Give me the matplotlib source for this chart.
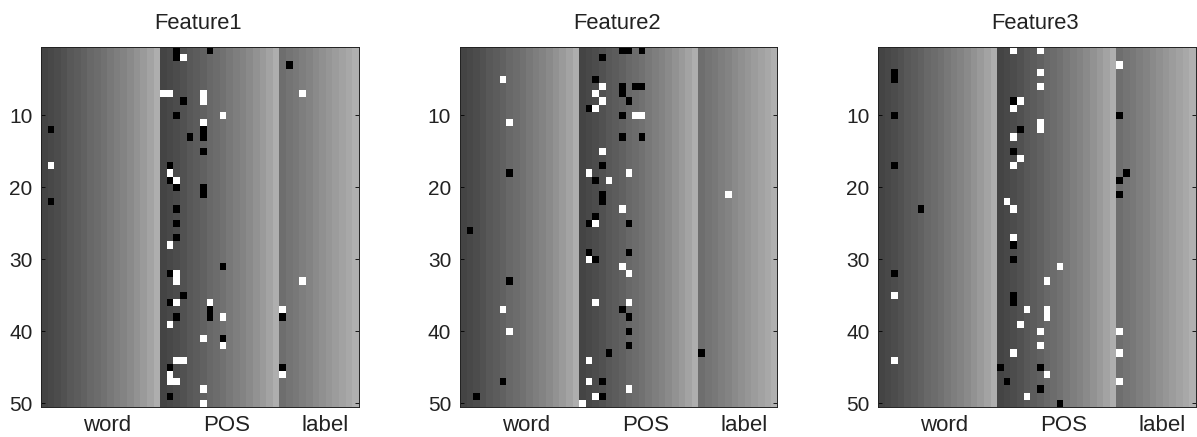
import numpy as np
import matplotlib
matplotlib.use("Agg")
import matplotlib.pyplot as plt

plt.rcParams['font.family'] = ['Liberation Sans', 'DejaVu Sans']

titles = ["Feature1", "Feature2", "Feature3"]
group_labels = ["word", "POS", "label"]
group_label_cols = [9.5, 27.6, 42.5]
row_ticks = [10, 20, 30, 40, 50]
n_rows = 50

# background grey level of every column
shade_word = [68, 72, 76, 82, 88, 92, 98, 104, 108, 114, 120, 126, 132, 138, 146, 154, 164, 174]
shade_pos = [68, 72, 76, 82, 88, 92, 98, 104, 108, 114, 120, 126, 132, 138, 146, 154, 164, 174]
shade_label = [110, 116, 120, 126, 132, 138, 144, 150, 156, 162, 168, 176]

# (column, row) of black and white cells
f1_black = [(20,1),(20,2),(25,1),(37,3),(21,8),(20,10),(24,12),(24,13),(22,13),(1,12),(24,15),
            (19,17),(19,19),(20,20),(24,20),(24,21),(1,22),(20,23),(20,25),(20,27),(27,31),(19,32),
            (21,35),(19,36),(25,37),(25,38),(36,38),(20,38),(27,41),(19,45),(36,45),(19,49)]
f1_white = [(21,2),(18,7),(19,7),(24,7),(24,8),(39,7),(27,10),(24,11),(1,17),(19,18),(20,19),
            (19,28),(20,32),(20,33),(39,33),(20,36),(25,36),(36,37),(27,38),(19,39),(24,41),
            (27,42),(20,44),(21,44),(36,46),(19,46),(19,47),(20,47),(24,48),(24,50)]

f2_black = [(24,1),(25,1),(27,1),(21,2),(20,5),(24,6),(24,7),(26,6),(27,6),(25,8),(19,9),(24,10),
            (24,13),(27,13),(21,17),(7,18),(20,19),(21,21),(21,22),(20,24),(19,25),(25,25),(1,26),
            (19,29),(25,29),(20,30),(7,33),(24,37),(25,38),(25,40),(25,42),(22,43),(36,43),
            (21,47),(6,47),(2,49),(21,49)]
f2_white = [(6,5),(21,6),(20,7),(21,8),(20,9),(26,10),(27,10),(7,11),(21,15),(19,18),(25,18),
            (22,19),(40,21),(24,23),(20,25),(19,30),(24,31),(25,32),(20,36),(25,36),(6,37),
            (7,40),(19,44),(19,47),(25,48),(20,49),(18,50)]

f3_black = [(2,4),(2,5),(20,8),(2,10),(36,10),(21,12),(20,15),(2,17),(37,18),(36,19),(36,21),
            (6,23),(20,28),(20,30),(2,32),(20,35),(20,36),(18,45),(24,45),(19,47),(24,48),(27,50)]
f3_white = [(20,1),(24,1),(36,3),(24,4),(24,6),(21,8),(20,9),(24,11),(24,12),(20,13),(21,16),
            (20,17),(19,22),(20,23),(20,27),(27,31),(25,33),(2,35),(22,37),(25,37),(25,38),
            (21,39),(24,40),(36,40),(24,42),(20,43),(36,43),(2,44),(25,46),(36,47),(22,49)]

black_cells = [f1_black, f2_black, f3_black]
white_cells = [f1_white, f2_white, f3_white]
axes_left_px = [41, 459.5, 878]

W, H = 1197, 437
fig = plt.figure(figsize=(W / 100, H / 100), dpi=100)
shades = np.array(shade_word + shade_pos + shade_label) / 255.0

for title, blacks, whites, left in zip(titles, black_cells, white_cells, axes_left_px):
    ax = fig.add_axes([left / W, 1 - 407 / H, 317.5 / W, 360 / H])
    grid = np.tile(shades, (n_rows, 1))
    for c, r in blacks:
        grid[r - 1, c] = 0.0
    for c, r in whites:
        grid[r - 1, c] = 1.0
    ax.imshow(grid, cmap="gray", vmin=0, vmax=1, aspect="auto", interpolation="nearest",
              extent=(-0.5, len(shades) - 0.5, n_rows + 0.5, 0.5))
    ax.set_title(title, fontsize=15.8, pad=13, x=0.495, color="#222222")
    ax.set_yticks(row_ticks)
    ax.tick_params(axis="y", direction="in", left=True, right=True, length=3, width=0.6,
                   labelsize=15, pad=6, labelcolor="#222222")
    ax.set_xticks(group_label_cols)
    ax.set_xticklabels(group_labels, fontsize=16, color="#222222")
    ax.tick_params(axis="x", length=0, pad=6)
    for s in ax.spines.values():
        s.set_linewidth(0.7)
        s.set_color("#222222")

fig.savefig("out.png", dpi=100)
